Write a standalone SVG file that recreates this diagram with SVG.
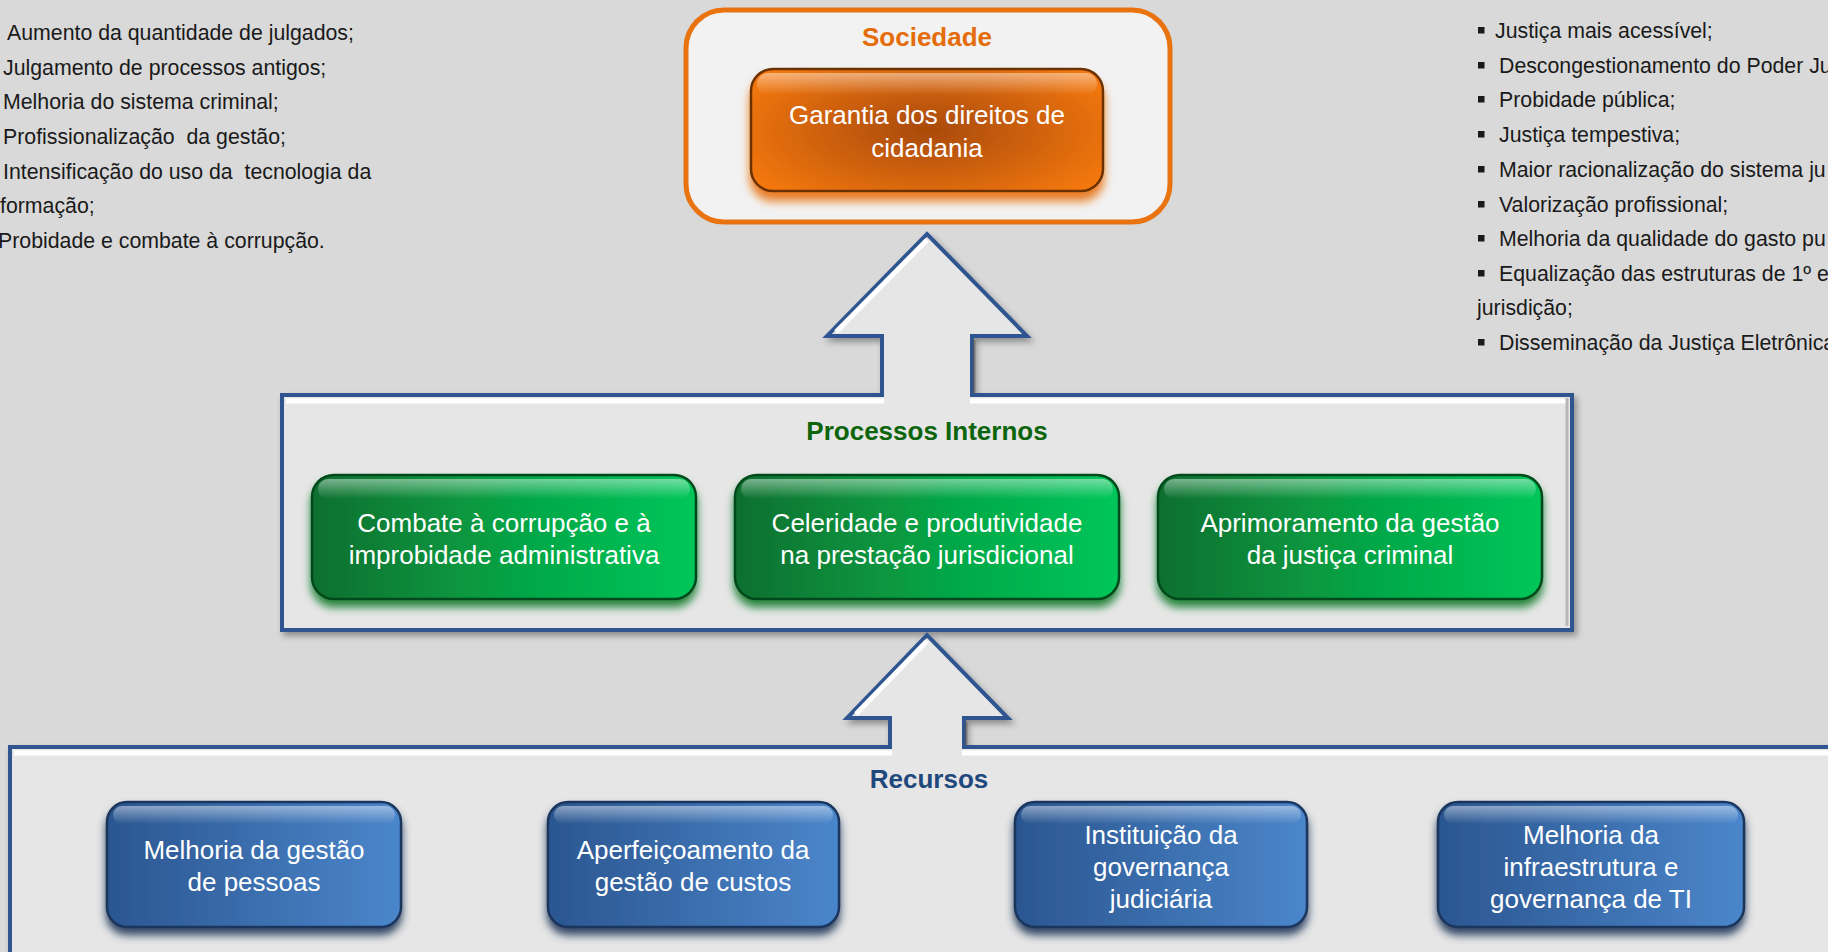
<svg xmlns="http://www.w3.org/2000/svg" width="1828" height="952" viewBox="0 0 1828 952">
<defs>
<style>
.t{font-family:"Liberation Sans",Arial,sans-serif}
.list{font-size:21.3px;fill:#1a1a1a}
.btn{font-size:26px;fill:#ffffff;text-anchor:middle}
.title{font-size:26px;font-weight:bold;text-anchor:middle}
.panel{fill:#e6e6e6;stroke:#2f5590;stroke-width:4;stroke-linejoin:miter}
.hl{fill:none;stroke:#ffffff;stroke-width:5}
.bullet{fill:#1a1a1a}
</style>
<linearGradient id="gGreen" x1="0" y1="0" x2="1" y2="0">
<stop offset="0" stop-color="#0a6f2f"/>
<stop offset="0.55" stop-color="#06a646"/>
<stop offset="1" stop-color="#03c65a"/>
</linearGradient>
<linearGradient id="gBlue" x1="0" y1="0" x2="1" y2="0">
<stop offset="0" stop-color="#2b5690"/>
<stop offset="1" stop-color="#4b86cb"/>
</linearGradient>
<radialGradient id="gOrange" cx="0.5" cy="0.5" r="0.6" gradientTransform="translate(0.5 0.5) scale(1 1.2) translate(-0.5 -0.5)">
<stop offset="0" stop-color="#a84a06"/>
<stop offset="1" stop-color="#f57811"/>
</radialGradient>
<linearGradient id="gloss" x1="0" y1="0" x2="0" y2="1">
<stop offset="0" stop-color="#ffffff" stop-opacity="0.45"/>
<stop offset="1" stop-color="#ffffff" stop-opacity="0"/>
</linearGradient>
<linearGradient id="shade" x1="0" y1="0" x2="0" y2="1">
<stop offset="0" stop-color="#000000" stop-opacity="0"/>
<stop offset="1" stop-color="#000000" stop-opacity="0.25"/>
</linearGradient>
<filter id="shG" x="-10%" y="-10%" width="120%" height="140%">
<feDropShadow dx="0" dy="7" stdDeviation="4" flood-color="#0b7a2a" flood-opacity="0.9"/>
</filter>
<filter id="shB" x="-10%" y="-10%" width="120%" height="140%">
<feDropShadow dx="0" dy="7" stdDeviation="4" flood-color="#1b3556" flood-opacity="0.9"/>
</filter>
<filter id="shO" x="-10%" y="-10%" width="120%" height="140%">
<feDropShadow dx="0" dy="9" stdDeviation="5" flood-color="#e8700e" flood-opacity="0.9"/>
</filter>
<filter id="shP" x="-5%" y="-10%" width="110%" height="130%">
<feDropShadow dx="3" dy="4" stdDeviation="3" flood-color="#000000" flood-opacity="0.35"/>
</filter>
</defs>

<rect x="0" y="0" width="1828" height="952" fill="#d9d9d9"/>

<g id="left-list" class="t list">
<text x="7" y="40">Aumento da quantidade de julgados;</text>
<text x="3" y="75">Julgamento de processos antigos;</text>
<text x="3" y="109">Melhoria do sistema criminal;</text>
<text x="3" y="144" xml:space="preserve">Profissionalização  da gestão;</text>
<text x="3" y="179" xml:space="preserve">Intensificação do uso da  tecnologia da</text>
<text x="0" y="213">formação;</text>
<text x="-2" y="248">Probidade e combate à corrupção.</text>
</g>

<g id="right-list" class="t list">
<rect class="bullet" x="1478" y="27" width="6.5" height="6.5"/>
<text x="1495" y="38">Justiça mais acessível;</text>
<rect class="bullet" x="1478" y="62" width="6.5" height="6.5"/>
<text x="1499" y="73">Descongestionamento do Poder Ju</text>
<rect class="bullet" x="1478" y="96" width="6.5" height="6.5"/>
<text x="1499" y="107">Probidade pública;</text>
<rect class="bullet" x="1478" y="131" width="6.5" height="6.5"/>
<text x="1499" y="142">Justiça tempestiva;</text>
<rect class="bullet" x="1478" y="166" width="6.5" height="6.5"/>
<text x="1499" y="177">Maior racionalização do sistema ju</text>
<rect class="bullet" x="1478" y="201" width="6.5" height="6.5"/>
<text x="1499" y="212">Valorização profissional;</text>
<rect class="bullet" x="1478" y="235" width="6.5" height="6.5"/>
<text x="1499" y="246">Melhoria da qualidade do gasto pu</text>
<rect class="bullet" x="1478" y="270" width="6.5" height="6.5"/>
<text x="1499" y="281">Equalização das estruturas de 1º e</text>
<text x="1477" y="315">jurisdição;</text>
<rect class="bullet" x="1478" y="339" width="6.5" height="6.5"/>
<text x="1499" y="350">Disseminação da Justiça Eletrônica</text>
</g>

<g id="sociedade">
<rect x="686" y="10" width="484" height="212" rx="38" fill="#f2f2f2" stroke="#e8730f" stroke-width="5"/>
<text class="t title" x="927" y="46" fill="#e46c0a">Sociedade</text>
</g>

<g id="garantia">
<rect x="751" y="69" width="352" height="122" rx="22" fill="url(#gOrange)" stroke="#6b3203" stroke-width="2.5" filter="url(#shO)"/>
<rect x="757" y="73" width="340" height="22" rx="11" fill="url(#gloss)"/>
<text class="t btn" x="927" y="124">Garantia dos direitos de</text>
<text class="t btn" x="927" y="157">cidadania</text>
</g>

<g id="connectors">
<g id="processos-panel">
<path class="panel" filter="url(#shP)" d="M282,395 H882 V336 H827 L927,234 L1027,336 H972 V395 H1572 V630 H282 Z"/>
<path class="hl" d="M286,401 H884"/>
<path class="hl" d="M970,401 H1566"/>
<path class="hl" d="M836,332 L927,240" stroke-width="4"/>
<path d="M974,340 V393" stroke="#555" stroke-width="3" opacity="0.5"/>
<path d="M1567,398 V626" stroke="#999" stroke-width="3" opacity="0.6"/>
</g>
<g id="recursos-panel">
<path class="panel" filter="url(#shP)" d="M10,747 H890 V718 H847 L927,635 L1008,718 H964 V747 H1840 V965 H10 Z"/>
<path class="hl" d="M14,753 H892"/>
<path class="hl" d="M962,753 H1830"/>
<path class="hl" d="M856,714 L927,641" stroke-width="4"/>
<path d="M966,722 V745" stroke="#555" stroke-width="3" opacity="0.5"/>
</g>
</g>

<text class="t title" x="927" y="440" fill="#0c650c">Processos Internos</text>
<text class="t title" x="929" y="788" fill="#1f497d">Recursos</text>

<g id="combate">
<rect x="312" y="475" width="384" height="124" rx="22" fill="url(#gGreen)" stroke="#064a1c" stroke-width="2.5" filter="url(#shG)"/>
<rect x="318" y="479" width="372" height="20" rx="10" fill="url(#gloss)"/>
<text class="t btn" x="504" y="532">Combate à corrupção e à</text>
<text class="t btn" x="504" y="564">improbidade administrativa</text>
</g>
<g id="celeridade">
<rect x="735" y="475" width="384" height="124" rx="22" fill="url(#gGreen)" stroke="#064a1c" stroke-width="2.5" filter="url(#shG)"/>
<rect x="741" y="479" width="372" height="20" rx="10" fill="url(#gloss)"/>
<text class="t btn" x="927" y="532">Celeridade e produtividade</text>
<text class="t btn" x="927" y="564">na prestação jurisdicional</text>
</g>
<g id="aprimoramento">
<rect x="1158" y="475" width="384" height="124" rx="22" fill="url(#gGreen)" stroke="#064a1c" stroke-width="2.5" filter="url(#shG)"/>
<rect x="1164" y="479" width="372" height="20" rx="10" fill="url(#gloss)"/>
<text class="t btn" x="1350" y="532">Aprimoramento da gestão</text>
<text class="t btn" x="1350" y="564">da justiça criminal</text>
</g>

<g id="pessoas">
<rect x="107" y="802" width="294" height="125" rx="20" fill="url(#gBlue)" stroke="#1a355c" stroke-width="2.5" filter="url(#shB)"/>
<rect x="113" y="806" width="282" height="18" rx="9" fill="url(#gloss)"/>
<text class="t btn" x="254" y="859">Melhoria da gestão</text>
<text class="t btn" x="254" y="891">de pessoas</text>
</g>
<g id="custos">
<rect x="548" y="802" width="291" height="125" rx="20" fill="url(#gBlue)" stroke="#1a355c" stroke-width="2.5" filter="url(#shB)"/>
<rect x="554" y="806" width="279" height="18" rx="9" fill="url(#gloss)"/>
<text class="t btn" x="693" y="859">Aperfeiçoamento da</text>
<text class="t btn" x="693" y="891">gestão de custos</text>
</g>
<g id="governanca">
<rect x="1015" y="802" width="292" height="125" rx="20" fill="url(#gBlue)" stroke="#1a355c" stroke-width="2.5" filter="url(#shB)"/>
<rect x="1021" y="806" width="280" height="18" rx="9" fill="url(#gloss)"/>
<text class="t btn" x="1161" y="844">Instituição da</text>
<text class="t btn" x="1161" y="876">governança</text>
<text class="t btn" x="1161" y="908">judiciária</text>
</g>
<g id="infraestrutura">
<rect x="1438" y="802" width="306" height="125" rx="20" fill="url(#gBlue)" stroke="#1a355c" stroke-width="2.5" filter="url(#shB)"/>
<rect x="1444" y="806" width="294" height="18" rx="9" fill="url(#gloss)"/>
<text class="t btn" x="1591" y="844">Melhoria da</text>
<text class="t btn" x="1591" y="876">infraestrutura e</text>
<text class="t btn" x="1591" y="908">governança de TI</text>
</g>
</svg>
